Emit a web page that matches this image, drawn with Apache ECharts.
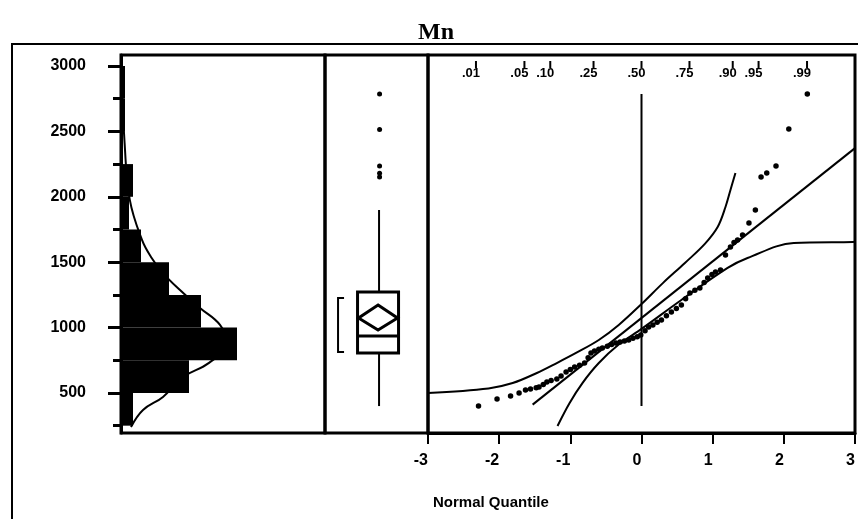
<!DOCTYPE html>
<html>
<head>
<meta charset="utf-8">
<script src="https://cdn.jsdelivr.net/npm/echarts@6/dist/echarts.min.js"></script>
<style>
html,body{margin:0;padding:0;background:#fff;}
#chart{width:858px;height:519px;}
</style>
</head>
<body>
<div id="chart"></div>
<script>
// ---------- data ----------
const yMin = 194, yMax = 3084;
const yTickValues = [500, 1000, 1500, 2000, 2500, 3000];
const yMinorTickValues = [250, 750, 1250, 1750, 2250, 2750];

// histogram (Mn value bins) and counts
const binStart = [250, 500, 750, 1000, 1250, 1500, 1750, 2000, 2250, 2500, 2750];
const binEnd   = [500, 750, 1000, 1250, 1500, 1750, 2000, 2250, 2500, 2750, 3000];
const binCount = [3, 17, 29, 20, 12, 5, 2, 3, 0, 1, 1];

// fitted density curve over the histogram (value, count scale)
const densityValue = [240, 370, 470, 622, 730, 880, 1020, 1150, 1287, 1417, 1540, 1670, 1976, 2411, 2870];
const densityCount = [2.5, 5.5, 10.5, 15.5, 22, 26.5, 24.75, 19.75, 14.75, 10.5, 7.5, 5.25, 2.2, 0.9, 0.25];

// outlier box plot statistics
const boxStats = { q1: 806, median: 936, q3: 1272, mean: 1073, meanLo: 982, meanHi: 1173,
                   whiskerLo: 400, whiskerHi: 1899, shortestLo: 813, shortestHi: 1226 };
const outliers = [2151, 2180, 2235, 2515, 2786];

// normal quantile plot: points (normal quantile, value)
const qqZ = [-2.29, -2.03, -1.84, -1.72, -1.63, -1.56, -1.48, -1.44, -1.38, -1.33, -1.27, -1.19, -1.13, -1.06,
             -1.00, -0.94, -0.87, -0.80, -0.75, -0.71, -0.66, -0.60, -0.55, -0.48, -0.42, -0.36, -0.30, -0.24,
             -0.18, -0.12, -0.06, -0.01, 0.05, 0.10, 0.16, 0.22, 0.28, 0.35, 0.42, 0.49, 0.56, 0.62, 0.68, 0.75,
             0.82, 0.88, 0.93, 0.99, 1.04, 1.11, 1.18, 1.25, 1.30, 1.35, 1.42, 1.51, 1.60, 1.68, 1.76, 1.89, 2.07, 2.33];
const qqValue = [400, 454, 477, 500, 523, 531, 540, 546, 565, 584, 595, 607, 630, 661,
                 680, 699, 712, 729, 770, 806, 820, 835, 844, 858, 870, 882, 890, 898,
                 905, 918, 930, 943, 975, 1005, 1020, 1040, 1058, 1090, 1119, 1145, 1173, 1220, 1265, 1285,
                 1303, 1345, 1379, 1405, 1425, 1440, 1555, 1616, 1650, 1670, 1708, 1800, 1899, 2151, 2182, 2235, 2518, 2786];

// reference line and confidence curves
const fitZ = [-1.53, 3.0];
const fitValue = [411, 2372];
const upperZ = [-3.0, -2.15, -1.81, -1.47, -1.19, -0.92, -0.60, -0.32, 0.0, 0.30, 0.61, 0.89, 1.07, 1.18, 1.25, 1.32];
const upperValue = [500, 535, 576, 653, 729, 806, 905, 1020, 1180, 1340, 1494, 1640, 1769, 1922, 2052, 2182];
const lowerZ = [-1.18, -1.01, -0.83, -0.60, -0.32, 0.0, 0.56, 1.21, 1.49, 2.14, 2.97, 3.0];
const lowerValue = [248, 424, 576, 729, 870, 990, 1211, 1456, 1532, 1647, 1655, 1656];
const medianLineValue = [400, 2786];

// top probability scale
const quantileZ = [-2.326, -1.645, -1.282, -0.674, 0, 0.674, 1.282, 1.645, 2.326];
const quantileLabels = ['.01', '.05', '.10', '.25', '.50', '.75', '.90', '.95', '.99'];
const xTickStart = -3, xTickEnd = 3;

// ---------- chart ----------
const FONT = 'Liberation Sans, Arial, sans-serif';
const chart = echarts.init(document.getElementById('chart'), null, { renderer: 'canvas' });

const hiddenAxis = (grid, min, max) => ({ gridIndex: grid, type: 'value', min: min, max: max, show: false,
  axisLine: { show: false }, axisTick: { show: false }, axisLabel: { show: false }, splitLine: { show: false } });

const option = {
  backgroundColor: '#fff',
  animation: false,
  title: [
    { text: 'Mn', left: 413, top: 16,
      textStyle: { fontFamily: 'Liberation Serif, Times New Roman, serif', fontWeight: 'bold', fontSize: 24, color: '#000' } },
    { text: 'Normal Quantile', left: 433, top: 495, padding: 0,
      textStyle: { fontFamily: FONT, fontWeight: 'bold', fontSize: 15, color: '#000' } }
  ],
  graphic: [
    { type: 'rect', shape: { x: 12, y: 44, width: 900, height: 600 },
      style: { fill: 'none', stroke: '#000', lineWidth: 2 }, z: 100 }
  ],
  grid: [
    { left: 121, top: 55, width: 204, height: 378, show: true, borderColor: '#000', borderWidth: 3, backgroundColor: 'transparent' },
    { left: 325, top: 55, width: 103, height: 378, show: true, borderColor: '#000', borderWidth: 3, backgroundColor: 'transparent' },
    { left: 428, top: 55, width: 430, height: 378, show: true, borderColor: '#000', borderWidth: 3, backgroundColor: 'transparent' }
  ],
  xAxis: [
    hiddenAxis(0, 0, 51),
    hiddenAxis(1, 0, 1),
    { gridIndex: 2, type: 'value', min: xTickStart, max: xTickEnd, interval: 1, position: 'bottom',
      axisLine: { show: true, lineStyle: { color: '#000', width: 3 } },
      axisTick: { show: true, length: 11, lineStyle: { color: '#000', width: 2 } },
      axisLabel: { show: true, margin: 20, align: 'right', showMinLabel: true, showMaxLabel: true,
        formatter: v => String(v),
        fontFamily: FONT, fontWeight: 'bold', fontSize: 16, color: '#000' },
      splitLine: { show: false } }
  ],
  yAxis: [
    { gridIndex: 0, type: 'value', min: yMin, max: yMax, position: 'left',
      axisLine: { show: true, lineStyle: { color: '#000', width: 3 } },
      axisTick: { show: true, customValues: yTickValues, length: 13, lineStyle: { color: '#000', width: 3 } },
      axisLabel: { show: true, customValues: yTickValues, margin: 35, formatter: v => String(v),
        fontFamily: FONT, fontWeight: 'bold', fontSize: 16, color: '#000' },
      splitLine: { show: false } },
    { gridIndex: 0, type: 'value', min: yMin, max: yMax, position: 'left',
      axisLine: { show: false },
      axisTick: { show: true, customValues: yMinorTickValues, length: 8, lineStyle: { color: '#000', width: 3 } },
      axisLabel: { show: false }, splitLine: { show: false } },
    hiddenAxis(1, yMin, yMax),
    hiddenAxis(2, yMin, yMax)
  ],
  series: [
    // histogram bars
    { type: 'custom', xAxisIndex: 0, yAxisIndex: 0, silent: true,
      data: binStart.map((s, i) => [s, binEnd[i], binCount[i]]),
      encode: { x: 2, y: [0, 1] },
      renderItem: function (params, api) {
        const a = api.coord([0, api.value(0)]);
        const b = api.coord([api.value(2), api.value(1)]);
        return { type: 'rect', shape: { x: a[0], y: b[1], width: b[0] - a[0], height: a[1] - b[1] },
                 style: { fill: '#000' } };
      } },
    // density curve
    { type: 'line', xAxisIndex: 0, yAxisIndex: 0, smooth: 0.4, symbol: 'none', silent: true,
      data: densityValue.map((v, i) => [densityCount[i], v]),
      lineStyle: { color: '#000', width: 2 }, z: 3 },
    // outlier box plot
    { type: 'custom', xAxisIndex: 1, yAxisIndex: 2, silent: true,
      data: [[0.515, boxStats.median]],
      encode: { x: 0, y: 1 },
      renderItem: function (params, api) {
        const cx = api.coord([0.515, boxStats.median])[0];
        const y = v => api.coord([0.515, v])[1];
        const hw = 20.5, s = boxStats, bx = cx - 40;
        const stroke = { stroke: '#000', fill: 'none' };
        return { type: 'group', children: [
          { type: 'line', shape: { x1: cx + 1, y1: y(s.q3), x2: cx + 1, y2: y(s.whiskerHi) }, style: Object.assign({ lineWidth: 2 }, stroke) },
          { type: 'line', shape: { x1: cx + 1, y1: y(s.q1), x2: cx + 1, y2: y(s.whiskerLo) }, style: Object.assign({ lineWidth: 2 }, stroke) },
          { type: 'rect', shape: { x: cx - hw, y: y(s.q3), width: 2 * hw, height: y(s.q1) - y(s.q3) }, style: Object.assign({ lineWidth: 3 }, stroke) },
          { type: 'line', shape: { x1: cx - hw, y1: y(s.median), x2: cx + hw, y2: y(s.median) }, style: Object.assign({ lineWidth: 3 }, stroke) },
          { type: 'polygon', shape: { points: [[cx, y(s.meanHi)], [cx + hw - 1, y(s.mean)], [cx, y(s.meanLo)], [cx - hw + 1, y(s.mean)]] },
            style: Object.assign({ lineWidth: 3 }, stroke) },
          { type: 'polyline', shape: { points: [[bx + 6, y(s.shortestHi)], [bx, y(s.shortestHi)], [bx, y(s.shortestLo)], [bx + 6, y(s.shortestLo)]] },
            style: Object.assign({ lineWidth: 2 }, stroke) }
        ] };
      } },
    // outliers
    { type: 'scatter', xAxisIndex: 1, yAxisIndex: 2, silent: true, symbolSize: 5,
      data: outliers.map(v => [0.53, v]), itemStyle: { color: '#000', opacity: 1 } },
    // top probability scale
    { type: 'custom', xAxisIndex: 2, yAxisIndex: 3, silent: true,
      data: quantileZ.map((z, i) => [z, i]),
      encode: { x: 0 },
      renderItem: function (params, api) {
        const x = api.coord([api.value(0), yMin])[0];
        const top = params.coordSys.y;
        const idx = api.value(1);
        return { type: 'group', children: [
          { type: 'line', shape: { x1: x, y1: top + 6, x2: x, y2: top + 13 }, style: { stroke: '#000', lineWidth: 2 } },
          { type: 'text', style: { text: quantileLabels[idx], x: x + 4, y: top + 12, align: 'right', verticalAlign: 'top',
              fontFamily: FONT, fontWeight: 'bold', fontSize: 13, fill: '#000' } }
        ] };
      } },
    // quantile points
    { type: 'scatter', xAxisIndex: 2, yAxisIndex: 3, silent: true, symbolSize: 5.5,
      data: qqZ.map((z, i) => [z, qqValue[i]]), itemStyle: { color: '#000', opacity: 1 }, z: 4 },
    // reference line
    { type: 'line', xAxisIndex: 2, yAxisIndex: 3, symbol: 'none', silent: true,
      data: fitZ.map((z, i) => [z, fitValue[i]]), lineStyle: { color: '#000', width: 2 } },
    // upper confidence curve
    { type: 'line', xAxisIndex: 2, yAxisIndex: 3, symbol: 'none', silent: true, smooth: 0.35,
      data: upperZ.map((z, i) => [z, upperValue[i]]), lineStyle: { color: '#000', width: 2 } },
    // lower confidence curve
    { type: 'line', xAxisIndex: 2, yAxisIndex: 3, symbol: 'none', silent: true, smooth: 0.35,
      data: lowerZ.map((z, i) => [z, lowerValue[i]]), lineStyle: { color: '#000', width: 2 } },
    // median vertical line
    { type: 'line', xAxisIndex: 2, yAxisIndex: 3, symbol: 'none', silent: true,
      data: medianLineValue.map(v => [0, v]), lineStyle: { color: '#000', width: 2 } }
  ]
};
chart.setOption(option);
</script>
</body>
</html>
